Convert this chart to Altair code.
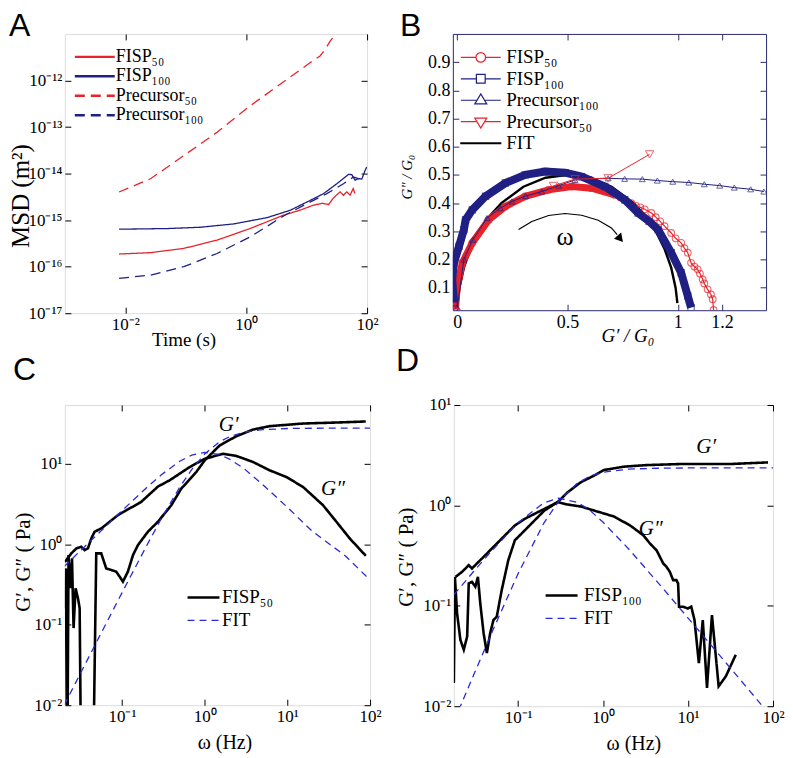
import altair as alt
import pandas as pd

SERIF = "Liberation Serif"
SANS = "Liberation Sans"
RED = "#e8232b"
NAVY = "#1f1f84"
FITBLUE = "#2b2bd4"
FRAME_B = "#2a2a70"

SUP = str.maketrans("-0123456789", "⁻⁰¹²³⁴⁵⁶⁷⁸⁹")

# ---------------- Panel A : MSD vs time ----------------
A_SERIES = ["FISP₅₀", "FISP₁₀₀", "Precursor₅₀", "Precursor₁₀₀"]
a_f50_t = [0.00789, 0.0262, 0.0931, 0.330, 1.17, 4.16, 7.83, 13.0, 18.5, 23.0, 27.8, 35.8, 40.6, 46.1, 52.4, 58.9, 62.9]
a_f50_m = [1.87e-16, 2.0e-16, 2.47e-16, 3.72e-16, 6.62e-16, 1.28e-15, 1.64e-15, 2.1e-15, 2.3e-15, 2.15e-15, 3.0e-15, 4.05e-15, 3.43e-15, 4.05e-15, 3.43e-15, 4.77e-15, 3.72e-15]
a_f100_t = [0.00789, 0.0494, 0.175, 0.622, 2.21, 5.36, 11.5, 19.0, 31.6, 49.2, 55.8, 63.4, 71.9, 81.7, 92.7, 98.6]
a_f100_m = [6.38e-16, 6.59e-16, 7.03e-16, 8.29e-16, 1.13e-15, 1.63e-15, 2.66e-15, 3.70e-15, 6.05e-15, 9.6e-15, 9.5e-15, 7.2e-15, 7.8e-15, 7.6e-15, 1.17e-14, 1.38e-14]
a_p50_t = [0.00789, 0.0262, 0.0931, 0.330, 1.17, 4.16, 11.5, 16.7, 20.3, 24.5, 31.6]
a_p50_m = [4.02e-15, 7.74e-15, 2.44e-14, 7.71e-14, 2.87e-13, 9.36e-13, 2.43e-12, 3.37e-12, 4.68e-12, 7.0e-12, 1.07e-11]
a_p100_t = [0.00789, 0.0262, 0.0931, 0.330, 1.17, 4.16, 10.1, 21.6, 40.6, 59.4, 71.9]
a_p100_m = [5.61e-17, 6.6e-17, 1.0e-16, 1.92e-16, 4.38e-16, 1.23e-15, 2.26e-15, 3.70e-15, 6.05e-15, 8.41e-15, 7.8e-15]
A_XTICKS = [1e-2, 1, 1e2]
A_YTICKS = [1e-17, 1e-16, 1e-15, 1e-14, 1e-13, 1e-12]

# ---------------- Panel B : Cole-Cole plot ----------------
B_SERIES = ["FISP₅₀", "FISP₁₀₀", "Precursor₁₀₀", "Precursor₅₀", "FIT"]
b_fit_x = [0.002, 0.01, 0.03, 0.06, 0.1, 0.15, 0.2, 0.3, 0.4, 0.5, 0.6, 0.7, 0.8, 0.85, 0.9, 0.94, 0.97, 0.99, 0.998]
b_fit_y = [0.045, 0.099, 0.171, 0.237, 0.300, 0.357, 0.400, 0.458, 0.490, 0.500, 0.490, 0.458, 0.400, 0.357, 0.300, 0.237, 0.171, 0.099, 0.045]
b_f100_x = [-0.015, -0.023, -0.015, 0.008, 0.030, 0.038, 0.068, 0.128, 0.218, 0.308, 0.398, 0.489, 0.564, 0.669, 0.759, 0.820, 0.870, 0.910, 0.970, 1.015, 1.045, 1.060]
b_f100_y = [0.047, 0.129, 0.188, 0.247, 0.306, 0.341, 0.376, 0.424, 0.471, 0.500, 0.512, 0.508, 0.494, 0.459, 0.412, 0.365, 0.335, 0.306, 0.224, 0.153, 0.071, 0.029]
b_f50_x = [-0.008, 0.000, 0.023, 0.068, 0.143, 0.218, 0.308, 0.414, 0.519, 0.609, 0.714, 0.740, 0.760, 0.789, 0.810, 0.830, 0.850, 0.880, 0.900, 0.920, 0.940, 0.970, 0.990, 1.015, 1.030, 1.045, 1.060, 1.075, 1.090, 1.100, 1.113, 1.120, 1.135, 1.150, 1.158, 1.162]
b_f50_y = [0.024, 0.106, 0.188, 0.259, 0.341, 0.388, 0.424, 0.447, 0.459, 0.453, 0.429, 0.420, 0.410, 0.400, 0.390, 0.385, 0.378, 0.365, 0.350, 0.335, 0.318, 0.294, 0.275, 0.259, 0.240, 0.224, 0.188, 0.175, 0.165, 0.150, 0.129, 0.115, 0.094, 0.076, 0.059, 0.021]
b_p100_x = [0.000, 0.030, 0.070, 0.135, 0.195, 0.248, 0.310, 0.383, 0.459, 0.534, 0.609, 0.684, 0.759, 0.839, 0.907, 0.977, 1.050, 1.120, 1.190, 1.256, 1.330, 1.390]
b_p100_y = [0.030, 0.200, 0.270, 0.347, 0.382, 0.406, 0.425, 0.441, 0.462, 0.482, 0.487, 0.488, 0.486, 0.485, 0.480, 0.476, 0.473, 0.467, 0.462, 0.455, 0.449, 0.441]
b_p50_x = [0.436, 0.534, 0.684, 0.872]
b_p50_y = [0.461, 0.485, 0.488, 0.573]
b_arc_x = [0.278, 0.338, 0.414, 0.489, 0.564, 0.639, 0.699, 0.725]
b_arc_y = [0.306, 0.335, 0.356, 0.363, 0.357, 0.339, 0.312, 0.288]
b_head_x = [0.735]
b_head_y = [0.277]
b_omega_x = [0.489]
b_omega_y = [0.28]
B_XTICKS = [0, 0.5, 1, 1.2]
B_YTICKS = [0.1, 0.2, 0.3, 0.4, 0.5, 0.6, 0.7, 0.8, 0.9]

# ---------------- Panel C : FISP50 moduli ----------------
C_SERIES = ["FISP₅₀", "FIT"]
c_gp_w = [0.0204, 0.0210, 0.0218, 0.0226, 0.0237, 0.0249, 0.0260, 0.0275, 0.0294, 0.0308, 0.0322, 0.0446, 0.0489, 0.0562, 0.0645, 0.0743, 0.0853, 0.0937, 0.1028, 0.118, 0.136, 0.156, 0.206, 0.272, 0.395, 0.522, 0.792, 1.0, 1.52, 2.42, 3.85, 6.11, 15.5, 39.2, 88.7]
c_gp = [0.160, 0.501, 0.001, 0.733, 0.284, 0.667, 0.0908, 0.284, 0.213, 0.160, 0.001, 0.001, 0.769, 0.769, 0.501, 0.478, 0.456, 0.396, 0.343, 0.456, 0.733, 0.975, 1.43, 1.90, 3.05, 4.91, 7.89, 11.0, 16.9, 22.0, 26.6, 29.3, 31.6, 32.5, 33.5]
c_gpp_w = [0.0204, 0.0244, 0.0281, 0.0322, 0.0353, 0.0388, 0.0426, 0.0467, 0.0562, 0.0895, 0.171, 0.272, 0.377, 0.659, 1.0, 1.67, 2.42, 3.85, 6.11, 9.73, 15.5, 27.0, 39.2, 56.8, 88.7]
c_gpp = [0.60, 0.769, 0.887, 0.931, 0.846, 0.887, 1.18, 1.43, 1.57, 2.30, 3.36, 5.2, 6.22, 9.10, 11.5, 13.3, 12.5, 10.5, 8.28, 6.84, 5.14, 3.05, 1.90, 1.18, 0.719]
c_fit_w = [0.02, 0.03, 0.05, 0.1, 0.2, 0.3, 0.5, 0.7, 1, 1.5, 2, 3, 5, 10, 20, 50, 100]
c_fit_gp = [0.0100, 0.0226, 0.0627, 0.249, 0.970, 2.09, 5.12, 8.52, 13.2, 18.6, 21.7, 24.7, 26.5, 27.4, 27.6, 27.7, 27.7]
c_fit_gpp = [0.527, 0.792, 1.31, 2.61, 5.08, 7.31, 10.75, 12.8, 13.8, 13.05, 11.4, 8.69, 5.55, 2.88, 1.45, 0.72, 0.36]
c_ann_text = ["G′", "G″"]
c_ann_w = [1.95, 35.6]
c_ann_g = [29.9, 4.91]

# ---------------- Panel D : FISP100 moduli ----------------
D_SERIES = ["FISP₁₀₀", "FIT"]
d_gp_w = [0.0175, 0.0180, 0.0191, 0.0209, 0.0229, 0.0251, 0.0262, 0.0286, 0.0313, 0.0336, 0.0358, 0.0392, 0.0428, 0.0468, 0.0512, 0.0560, 0.0640, 0.0765, 0.0914, 0.1196, 0.156, 0.204, 0.292, 0.382, 0.546, 0.781, 1.02, 1.75, 3.26, 7.96, 30.5, 87.3]
d_gp = [0.0170, 0.194, 0.0841, 0.0458, 0.0365, 0.0494, 0.167, 0.173, 0.155, 0.194, 0.106, 0.0533, 0.0338, 0.0533, 0.0722, 0.078, 0.143, 0.284, 0.449, 0.564, 0.708, 0.889, 1.08, 1.35, 1.70, 1.98, 2.25, 2.43, 2.52, 2.58, 2.58, 2.68]
d_gpp_w = [0.0183, 0.0219, 0.0262, 0.0286, 0.0327, 0.0374, 0.0489, 0.0640, 0.0914, 0.1196, 0.171, 0.2236, 0.292, 0.382, 0.546, 0.781, 1.334, 2.08, 2.98, 3.57, 4.26, 4.66, 5.10, 5.58, 6.10, 6.67, 7.29, 7.63, 7.83, 8.72, 9.96, 10.9, 11.9, 13.4, 14.9, 16.7, 19.1, 22.9, 27.8, 36.4]
d_gpp = [0.194, 0.218, 0.254, 0.235, 0.264, 0.295, 0.371, 0.466, 0.631, 0.735, 0.857, 0.960, 1.076, 1.02, 0.975, 0.889, 0.776, 0.631, 0.503, 0.416, 0.357, 0.307, 0.264, 0.244, 0.218, 0.180, 0.180, 0.167, 0.098, 0.098, 0.094, 0.098, 0.0722, 0.0268, 0.0722, 0.0152, 0.0809, 0.0158, 0.0198, 0.0325]
d_fit_w = [0.0175, 0.021, 0.03, 0.05, 0.1, 0.2, 0.3, 0.5, 0.7, 1, 2, 5, 10, 20, 50, 71, 100]
d_fit_gp = [0.0071, 0.0101, 0.0206, 0.0563, 0.210, 0.663, 1.10, 1.67, 1.95, 2.14, 2.30, 2.35, 2.36, 2.36, 2.36, 2.36, 2.36]
d_fit_gpp = [0.129, 0.154, 0.2206, 0.360, 0.672, 1.06, 1.18, 1.07, 0.894, 0.678, 0.368, 0.151, 0.0755, 0.0378, 0.0151, 0.0106, 0.0075]
d_ann_text = ["G′", "G″"]
d_ann_w = [16.3, 3.63]
d_ann_g = [3.78, 0.585]
CD_XTICKS = [0.1, 1, 10, 100]
CD_YTICKS = [0.01, 0.1, 1, 10]


# ---------------- helpers ----------------
def pow_expr(exps):
    exps = sorted(exps)
    s = "'10" + str(exps[-1]).translate(SUP) + "'"
    for e in reversed(exps[:-1]):
        s = "datum.value < %g ? '10%s' : (%s)" % (10 ** (e + 0.5), str(e).translate(SUP), s)
    return s


def main_axis(orient, values, label_expr, title, tsize=18, tx=None, ty=None,
              tstyle="normal", lsize=17, lpad=3, tick_color="black"):
    kw = dict(orient=orient, values=values, labelExpr=label_expr, title=title,
              domain=False, grid=False, ticks=True, tickSize=6, tickWidth=1,
              tickColor=tick_color, offset=-6, labelFont=SERIF, labelFontSize=lsize,
              labelColor="black", labelPadding=lpad, labelFlush=False,
              labelOverlap=False, titleFont=SERIF, titleFontSize=tsize,
              titleFontWeight="normal", titleColor="black", titleFontStyle=tstyle,
              titleAlign="center")
    if tx is not None:
        kw["titleX"] = tx
    if ty is not None:
        kw["titleY"] = ty
    if orient in ("left", "right"):
        kw["titleBaseline"] = "middle"
        kw["titleAngle"] = 270
    else:
        kw["titleBaseline"] = "alphabetic"
    return alt.Axis(**kw)


def mirror_axis(orient, values, tick_color="black"):
    return alt.Axis(orient=orient, values=values, labels=False, title=None,
                    domain=False, grid=False, ticks=True, tickSize=6,
                    tickColor=tick_color, offset=-6)


def letter(t, off):
    return alt.TitleParams(text=t, anchor="start", frame="bounds", fontSize=32,
                           font=SANS, fontWeight="normal", color="black",
                           offset=off)


def line_legend(lx, ly, fsize, path, so, lo, rowpad):
    return alt.Legend(orient="none", legendX=lx, legendY=ly, title=None,
                      symbolType=path, symbolSize=64, symbolStrokeWidth=2.5,
                      labelFont=SERIF, labelFontSize=fsize, labelColor="black",
                      padding=0, rowPadding=rowpad, symbolOffset=so,
                      labelOffset=lo, labelLimit=0)


INDEP = dict(color="independent", strokeDash="independent", shape="independent",
             strokeWidth="independent")

# ---------------- Panel A chart ----------------
rows = []
for name, ts, ms in [(A_SERIES[0], a_f50_t, a_f50_m), (A_SERIES[1], a_f100_t, a_f100_m),
                     (A_SERIES[2], a_p50_t, a_p50_m), (A_SERIES[3], a_p100_t, a_p100_m)]:
    for i, (t, m) in enumerate(zip(ts, ms)):
        rows.append(dict(series=name, t=t, msd=m, idx=i))
dfA = pd.DataFrame(rows)

xsA = alt.Scale(type="log", domain=[1e-3, 1e2], nice=False)
ysA = alt.Scale(type="log", domain=[1e-17, 1e-11], nice=False)
legA = line_legend(10, 14, 18, "M-5,0H5", 11, 12, 1.5)
linesA = alt.Chart(dfA).mark_line(clip=True, strokeWidth=1.3).encode(
    x=alt.X("t:Q", scale=xsA, axis=main_axis("bottom", A_XTICKS, pow_expr([-2, 0, 2]),
                                             "Time (s)", tsize=19, tx=119, ty=38)),
    y=alt.Y("msd:Q", scale=ysA, axis=main_axis("left", A_YTICKS, pow_expr(range(-17, -11)),
                                               "MSD (m²)", tsize=25, tx=-50, ty=162)),
    color=alt.Color("series:N", scale=alt.Scale(domain=A_SERIES, range=[RED, NAVY, RED, NAVY]), legend=legA),
    strokeDash=alt.StrokeDash("series:N", scale=alt.Scale(domain=A_SERIES, range=[[1, 0], [1, 0], [10, 6], [10, 6]]), legend=legA),
    order="idx:Q",
)
mirrorA = alt.Chart(dfA).mark_line(opacity=0).encode(
    x=alt.X("t:Q", scale=xsA, axis=mirror_axis("top", A_XTICKS)),
    y=alt.Y("msd:Q", scale=ysA, axis=mirror_axis("right", A_YTICKS)),
)
chartA = alt.layer(linesA, mirrorA).resolve_axis(x="independent", y="independent").properties(
    width=303, height=280, title=letter("A", -10))

# ---------------- Panel B chart ----------------
rows = []
for name, xs, ys in [("FISP₅₀", b_f50_x, b_f50_y), ("FISP₁₀₀", b_f100_x, b_f100_y),
                     ("Precursor₁₀₀", b_p100_x, b_p100_y), ("Precursor₅₀", b_p50_x, b_p50_y),
                     ("FIT", b_fit_x, b_fit_y)]:
    for i, (x, y) in enumerate(zip(xs, ys)):
        rows.append(dict(series=name, x=x, y=y, idx=i))
dfB = pd.DataFrame(rows)
dfArc = pd.DataFrame(dict(x=b_arc_x, y=b_arc_y, idx=range(len(b_arc_x))))
dfHead = pd.DataFrame(dict(x=b_head_x, y=b_head_y))
dfOmega = pd.DataFrame(dict(x=b_omega_x, y=b_omega_y, t=["ω"]))

xsB = alt.Scale(domain=[-0.02, 1.4], nice=False, zero=False)
ysB = alt.Scale(domain=[0.02, 1.0], nice=False, zero=False)
xB = alt.X("x:Q", scale=xsB, axis=None)
yB = alt.Y("y:Q", scale=ysB, axis=None)
baseB = alt.Chart(dfB)


def ser(name):
    return baseB.transform_filter(alt.datum.series == name)


fitB = ser("FIT").mark_line(color="black", strokeWidth=2.4, clip=True).encode(
    x=alt.X("x:Q", scale=xsB, axis=main_axis("bottom", B_XTICKS, "format(datum.value, '~g')",
                                             "G′ / G₀", tsize=19, tx=175, ty=37, tstyle="italic",
                                             lsize=18, tick_color=FRAME_B)),
    y=alt.Y("y:Q", scale=ysB, axis=main_axis("left", B_YTICKS, "format(datum.value, '.1f')",
                                             "G″ / G₀", tsize=15, tx=-52, ty=143, tstyle="italic",
                                             lsize=18, tick_color=FRAME_B)),
    order="idx:Q")
band50 = ser("FISP₅₀").transform_filter("datum.x <= 0.72").mark_line(
    color=RED, strokeWidth=7, clip=True).encode(x=xB, y=yB, order="idx:Q")
thin50 = ser("FISP₅₀").mark_line(color=RED, strokeWidth=1.2, clip=True).encode(x=xB, y=yB, order="idx:Q")
pts50 = ser("FISP₅₀").mark_point(shape="circle", color=RED, filled=False, size=45, strokeWidth=1.1, clip=True).encode(x=xB, y=yB)
band100 = ser("FISP₁₀₀").mark_line(color=NAVY, strokeWidth=8, clip=True).encode(x=xB, y=yB, order="idx:Q")
pts100 = ser("FISP₁₀₀").mark_point(shape="square", color=NAVY, filled=False, size=40, strokeWidth=1.1, clip=True).encode(x=xB, y=yB)
linep100 = ser("Precursor₁₀₀").mark_line(color=NAVY, strokeWidth=1, clip=True).encode(x=xB, y=yB, order="idx:Q")
ptsp100 = ser("Precursor₁₀₀").mark_point(shape="triangle-up", color=NAVY, filled=False, size=35, strokeWidth=1, clip=True).encode(x=xB, y=yB)
linep50 = ser("Precursor₅₀").mark_line(color=RED, strokeWidth=1, clip=True).encode(x=xB, y=yB, order="idx:Q")
ptsp50 = ser("Precursor₅₀").mark_point(shape="triangle-down", color=RED, filled=False, size=70, strokeWidth=1, clip=True).encode(x=xB, y=yB)
arc = alt.Chart(dfArc).mark_line(color="black", strokeWidth=1.2).encode(x=xB, y=yB, order="idx:Q")
head = alt.Chart(dfHead).mark_point(shape="triangle", filled=True, color="black", size=90, angle=139, opacity=1).encode(x=xB, y=yB)
omega = alt.Chart(dfOmega).mark_text(font=SERIF, fontSize=26, color="black").encode(x=xB, y=yB, text="t:N")

SHAPES = [
    "M-5,0H-1.2M1.2,0H5M-1.2,0A1.2,1.2 0 1,0 1.2,0A1.2,1.2 0 1,0 -1.2,0",
    "M-5,0H-1.1M1.1,0H5M-1.1,-1.1H1.1V1.1H-1.1Z",
    "M-5,0H-0.96M0.96,0H5M-1.5,0.9H1.5L0,-1.6Z",
    "M-5,0H-0.96M0.96,0H5M-1.5,-0.9H1.5L0,1.6Z",
    "M-5,-0.1H5V0.1H-5Z",
]
legB = alt.Legend(orient="none", legendX=8, legendY=14, title=None, symbolSize=64,
                  symbolStrokeWidth=1.2, symbolOpacity=1, labelFont=SERIF, labelFontSize=19,
                  labelColor="black", padding=0, rowPadding=1.5, symbolOffset=10.5,
                  labelOffset=16, labelLimit=0)
carrier = baseB.mark_point(filled=False, opacity=0, size=64).encode(
    x=xB, y=yB,
    color=alt.Color("series:N", scale=alt.Scale(domain=B_SERIES, range=[RED, NAVY, NAVY, RED, "black"]), legend=legB),
    shape=alt.Shape("series:N", scale=alt.Scale(domain=B_SERIES, range=SHAPES), legend=legB),
)
mirrorB = baseB.mark_point(opacity=0).encode(
    x=alt.X("x:Q", scale=xsB, axis=mirror_axis("top", B_XTICKS, FRAME_B)),
    y=alt.Y("y:Q", scale=ysB, axis=mirror_axis("right", B_YTICKS, FRAME_B)),
)
chartB = alt.layer(fitB, band50, thin50, pts50, band100, pts100, linep100, ptsp100,
                   linep50, ptsp50, arc, head, omega, carrier, mirrorB).resolve_axis(
    x="independent", y="independent").properties(
    width=314, height=277, title=letter("B", -10), view=alt.ViewBackground(stroke=FRAME_B))


# ---------------- Panels C and D ----------------
def rheo(series_names, gp_w, gp, gpp_w, gpp, fw, fgp, fgpp, ann_t, ann_w, ann_g,
         xdom, ydom, width, height, lx, ly, lo, title, toff, xtx, ytx, yty):
    rows = []
    data_name, fit_name = series_names
    for comp, ws, gs in [("Gp", gp_w, gp), ("Gpp", gpp_w, gpp)]:
        for i, (w, g) in enumerate(zip(ws, gs)):
            rows.append(dict(series=data_name, comp=comp, w=w, g=g, idx=i))
    for comp, gs in [("Gp", fgp), ("Gpp", fgpp)]:
        for i, (w, g) in enumerate(zip(fw, gs)):
            rows.append(dict(series=fit_name, comp=comp, w=w, g=g, idx=i))
    df = pd.DataFrame(rows)
    xs = alt.Scale(type="log", domain=xdom, nice=False)
    ys = alt.Scale(type="log", domain=ydom, nice=False)
    leg = line_legend(lx, ly, 19, "M-4,0H4", 6.5, lo, 3)
    lines = alt.Chart(df).mark_line(clip=True).encode(
        x=alt.X("w:Q", scale=xs, axis=main_axis("bottom", CD_XTICKS, pow_expr([-1, 0, 1, 2]),
                                              "ω (Hz)", tsize=20, tx=xtx, ty=49, lsize=17)),
        y=alt.Y("g:Q", scale=ys, axis=main_axis("left", CD_YTICKS, pow_expr([-2, -1, 0, 1]),
                                              "G′, G″ ( Pa)", tsize=21, tx=ytx, ty=yty, lsize=17)),
        color=alt.Color("series:N", scale=alt.Scale(domain=list(series_names), range=["black", FITBLUE]), legend=leg),
        strokeDash=alt.StrokeDash("series:N", scale=alt.Scale(domain=list(series_names), range=[[1, 0], [7, 5]]), legend=leg),
        strokeWidth=alt.StrokeWidth("series:N", scale=alt.Scale(domain=list(series_names), range=[2.6, 1.3]), legend=None),
        detail="comp:N",
        order="idx:Q",
    )
    ann = alt.Chart(pd.DataFrame(dict(t=ann_t, w=ann_w, g=ann_g))).mark_text(
        font=SERIF, fontSize=21, fontStyle="italic", color="black").encode(
        x=alt.X("w:Q", scale=xs, axis=None), y=alt.Y("g:Q", scale=ys, axis=None), text="t:N")
    mirror = alt.Chart(df).mark_line(opacity=0).encode(
        x=alt.X("w:Q", scale=xs, axis=mirror_axis("top", CD_XTICKS)),
        y=alt.Y("g:Q", scale=ys, axis=mirror_axis("right", CD_YTICKS)),
        detail="comp:N")
    return alt.layer(lines, ann, mirror).resolve_axis(x="independent", y="independent").properties(
        width=width, height=height, title=letter(title, toff))


chartC = rheo(C_SERIES, c_gp_w, c_gp, c_gpp_w, c_gpp, c_fit_w, c_fit_gp, c_fit_gpp,
              c_ann_text, c_ann_w, c_ann_g, [0.0204, 100], [0.01, 53.7], 306, 301,
              123, 183.5, 9, "C", 18, 160, -47, 157)
chartD = rheo(D_SERIES, d_gp_w, d_gp, d_gpp_w, d_gpp, d_fit_w, d_fit_gp, d_fit_gpp,
              d_ann_text, d_ann_w, d_ann_g, [0.0175, 100], [0.01, 10], 320, 302,
              92, 181.5, 13, "D", 18, 180, -53, 152)

rowAB = alt.hconcat(chartA, chartB, spacing=20).resolve_scale(**INDEP)
rowCD = alt.hconcat(chartC, chartD, spacing=13).resolve_scale(**INDEP)
chart = alt.vconcat(rowAB, rowCD, spacing=-6).resolve_scale(**INDEP).properties(
    padding={"left": 0, "right": 0, "top": 0, "bottom": 0}
).configure_view(stroke="black", strokeWidth=1).configure(font=SERIF)

chart.save("out.html", embed_options={"renderer": "svg", "actions": False})
